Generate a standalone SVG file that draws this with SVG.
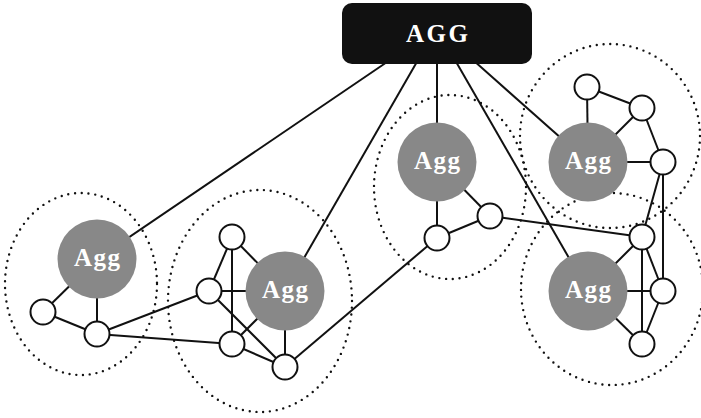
<svg xmlns="http://www.w3.org/2000/svg" width="701" height="418" viewBox="0 0 701 418">
<style>
.cl{fill:none;stroke:#111;stroke-width:2.4;stroke-dasharray:0 6.8;stroke-linecap:round}
.e line{stroke:#111;stroke-width:2}
.agg circle{fill:#888;stroke:none}
.agg text{fill:#fff;font-family:"Liberation Serif",serif;font-weight:bold;font-size:25px;text-anchor:middle}
.n{fill:#fff;stroke:#111;stroke-width:2}
</style>
<rect width="701" height="418" fill="#fff"/>
<g id="clusters">
<ellipse class="cl" cx="81" cy="284" rx="76" ry="91"/>
<ellipse class="cl" cx="260" cy="301" rx="92" ry="111"/>
<ellipse class="cl" cx="450" cy="187" rx="76" ry="92"/>
<ellipse class="cl" cx="610" cy="136" rx="90" ry="92"/>
<ellipse class="cl" cx="612" cy="289" rx="91" ry="96"/>
</g>
<g id="connectors" class="e">
<line x1="390" y1="60" x2="97" y2="259"/>
<line x1="418" y1="60" x2="285" y2="291"/>
<line x1="437" y1="60" x2="437" y2="162"/>
<line x1="455" y1="60" x2="588" y2="291"/>
<line x1="473" y1="60" x2="588" y2="162"/>
<line x1="97" y1="259" x2="43" y2="312"/>
<line x1="97" y1="259" x2="97" y2="334"/>
<line x1="43" y1="312" x2="97" y2="334"/>
<line x1="97" y1="334" x2="209" y2="291"/>
<line x1="97" y1="334" x2="232" y2="344"/>
<line x1="232" y1="237" x2="209" y2="291"/>
<line x1="232" y1="237" x2="232" y2="344"/>
<line x1="232" y1="237" x2="285" y2="291"/>
<line x1="209" y1="291" x2="285" y2="291"/>
<line x1="209" y1="291" x2="285" y2="367"/>
<line x1="232" y1="344" x2="285" y2="291"/>
<line x1="232" y1="344" x2="285" y2="367"/>
<line x1="285" y1="367" x2="285" y2="291"/>
<line x1="285" y1="367" x2="437" y2="238"/>
<line x1="437" y1="162" x2="437" y2="238"/>
<line x1="437" y1="162" x2="490" y2="216"/>
<line x1="437" y1="238" x2="490" y2="216"/>
<line x1="490" y1="216" x2="642" y2="237"/>
<line x1="587" y1="87" x2="588" y2="162"/>
<line x1="587" y1="87" x2="642" y2="108"/>
<line x1="642" y1="108" x2="588" y2="162"/>
<line x1="642" y1="108" x2="663" y2="162"/>
<line x1="588" y1="162" x2="663" y2="162"/>
<line x1="663" y1="162" x2="642" y2="237"/>
<line x1="663" y1="162" x2="663" y2="291"/>
<line x1="642" y1="237" x2="588" y2="291"/>
<line x1="642" y1="237" x2="642" y2="344"/>
<line x1="642" y1="237" x2="663" y2="291"/>
<line x1="588" y1="291" x2="663" y2="291"/>
<line x1="588" y1="291" x2="642" y2="344"/>
<line x1="663" y1="291" x2="642" y2="344"/>
</g>
<g id="AGG">
<rect x="342" y="3" width="190" height="61" rx="10" fill="#111"/>
<text x="437" y="42" fill="#fff" font-family="Liberation Serif, serif" font-weight="bold" font-size="25" text-anchor="middle" textLength="62" lengthAdjust="spacing">AGG</text>
</g>
<g id="agg1" class="agg"><circle cx="97" cy="259" r="39.5"/><text x="97" y="266" textLength="46" lengthAdjust="spacing">Agg</text></g>
<g id="agg2" class="agg"><circle cx="285" cy="291" r="39.5"/><text x="285" y="298" textLength="46" lengthAdjust="spacing">Agg</text></g>
<g id="agg3" class="agg"><circle cx="437" cy="162" r="39.5"/><text x="437" y="169" textLength="46" lengthAdjust="spacing">Agg</text></g>
<g id="agg4" class="agg"><circle cx="588" cy="162" r="39.5"/><text x="588" y="169" textLength="46" lengthAdjust="spacing">Agg</text></g>
<g id="agg5" class="agg"><circle cx="588" cy="291" r="39.5"/><text x="588" y="298" textLength="46" lengthAdjust="spacing">Agg</text></g>
<g id="n1a"><circle class="n" cx="43" cy="312" r="12.5"/></g>
<g id="n1b"><circle class="n" cx="97" cy="334" r="12.5"/></g>
<g id="n2a"><circle class="n" cx="232" cy="237" r="12.5"/></g>
<g id="n2b"><circle class="n" cx="209" cy="291" r="12.5"/></g>
<g id="n2c"><circle class="n" cx="232" cy="344" r="12.5"/></g>
<g id="n2d"><circle class="n" cx="285" cy="367" r="12.5"/></g>
<g id="n3a"><circle class="n" cx="437" cy="238" r="12.5"/></g>
<g id="n3b"><circle class="n" cx="490" cy="216" r="12.5"/></g>
<g id="n4a"><circle class="n" cx="587" cy="87" r="12.5"/></g>
<g id="n4b"><circle class="n" cx="642" cy="108" r="12.5"/></g>
<g id="n4c"><circle class="n" cx="663" cy="162" r="12.5"/></g>
<g id="n5a"><circle class="n" cx="642" cy="237" r="12.5"/></g>
<g id="n5b"><circle class="n" cx="663" cy="291" r="12.5"/></g>
<g id="n5c"><circle class="n" cx="642" cy="344" r="12.5"/></g>
</svg>
